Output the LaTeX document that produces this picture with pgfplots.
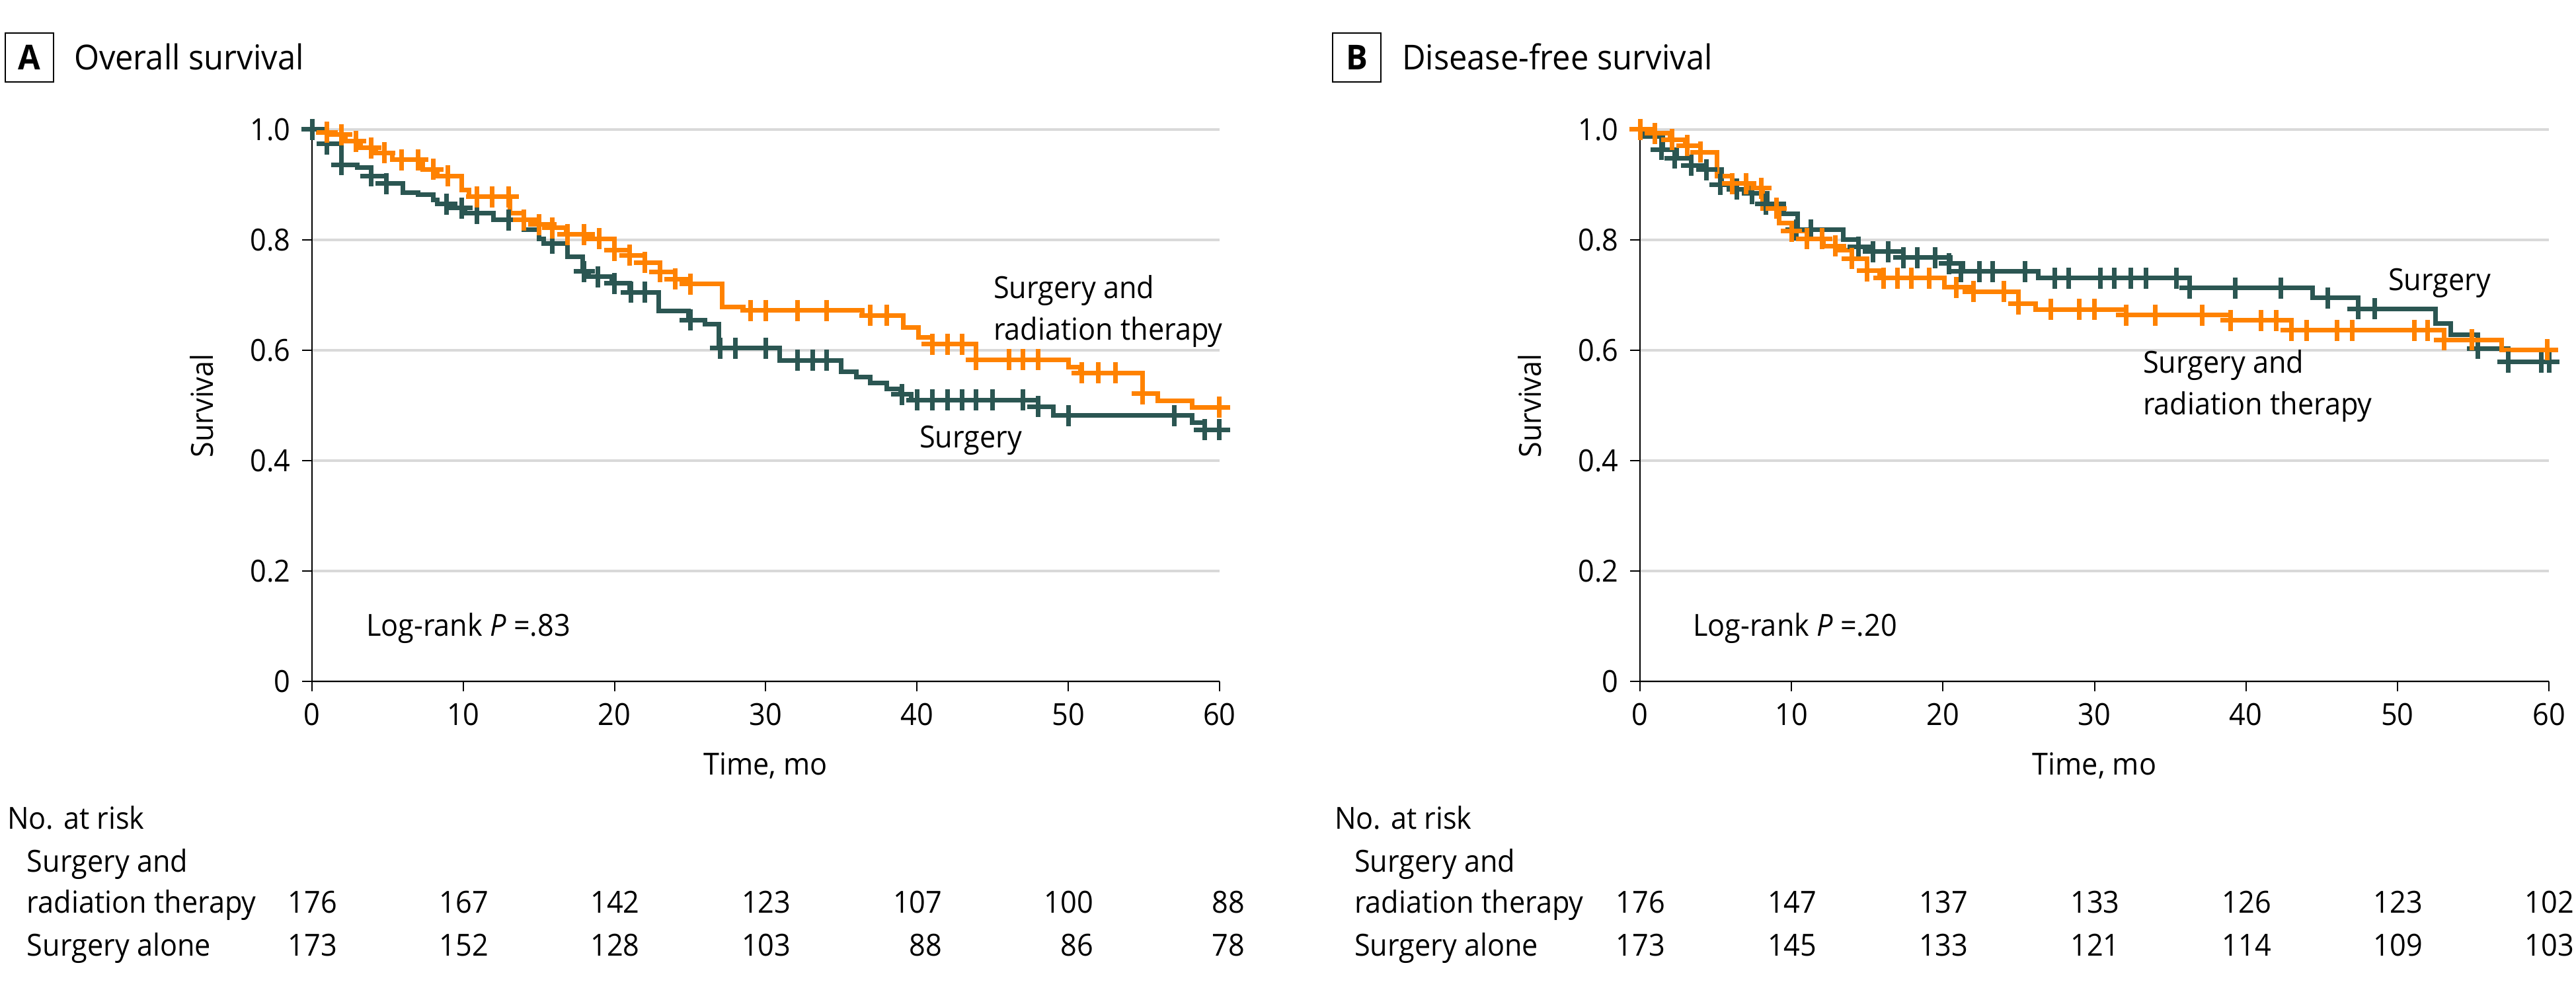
\documentclass[border=0pt]{standalone}
\usepackage{fontspec}
\setmainfont{Open Sans}[FakeStretch=0.94]
\usepackage{pgfplots}
\pgfplotsset{compat=1.18}
\definecolor{dk}{HTML}{2B5652}
\definecolor{og}{HTML}{FF8200}
\definecolor{gr}{HTML}{D9D9D9}
\newcommand{\fs}{\fontsize{9.2}{11}\selectfont}
\newcommand{\ft}{\fontsize{10.4}{12}\selectfont}
\pgfplotsset{kmstyle/.style={
  scale only axis, height=167pt,
  xmin=0, xmax=60, ymin=0, ymax=1,
  axis x line=bottom, axis y line=left,
  axis line style={black, line width=0.4pt, -},
  xtick={0,10,20,30,40,50,60},
  xticklabels={0,10,20,30,40,50,60},
  ytick={0,0.2,0.4,0.6,0.8,1},
  yticklabels={0,0.2,0.4,0.6,0.8,1.0},
  ymajorgrids, grid style={gr, line width=0.8pt},
  tick align=outside, major tick length=3pt,
  tick style={black, line width=0.4pt},
  ticklabel style={font=\fs},
  clip=false,
}}
\begin{document}
\begin{tikzpicture}
% ---------------- Panel A ----------------
\begin{axis}[kmstyle, width=274.6pt, at={(94.4pt,93.8pt)}, anchor=south west]
\addplot[const plot, dk, line width=1.4pt] coordinates {
(0,1.000) (0.98,0.974) (1.95,0.936) (3.0,0.931) (3.9,0.916) (4.9,0.902)
(6.0,0.886) (7.0,0.882) (8.0,0.872) (8.3,0.865) (9.2,0.858) (10.1,0.848)
(12.0,0.836) (14.0,0.818) (15.0,0.802) (15.3,0.794) (16.9,0.770) (17.9,0.743)
(18.3,0.733) (19.8,0.721) (21.0,0.705) (22.9,0.671) (24.9,0.655) (26.0,0.647)
(26.9,0.604) (30.9,0.582) (35.0,0.561) (36.0,0.551) (36.9,0.541) (38.0,0.530)
(38.9,0.520) (39.6,0.510) (48.0,0.498) (49.0,0.482) (58.2,0.469) (59.0,0.456)
(60,0.456)};
\addplot[only marks, mark=+, mark size=3.2pt, mark options={dk, line width=1.4pt}] coordinates {
(0,1.000) (1.0,0.974) (1.95,0.936) (3.9,0.916) (4.9,0.902) (8.9,0.865)
(9.9,0.858) (10.9,0.848) (13.0,0.836) (15.9,0.794) (18.0,0.743) (18.9,0.733)
(20.0,0.721) (21.1,0.705) (22.0,0.705) (25.0,0.655) (27.0,0.604) (28.0,0.604)
(30.0,0.604) (32.1,0.582) (33.1,0.582) (34.0,0.582) (39.0,0.520) (40.0,0.510)
(41.0,0.510) (42.0,0.510) (43.0,0.510) (43.9,0.510) (45.0,0.510) (47.0,0.510)
(48.0,0.498) (50.0,0.482) (57.0,0.482) (59.0,0.456) (60.0,0.456)};
\addplot[const plot, og, line width=1.4pt] coordinates {
(0,1.000) (0.4,0.995) (1.1,0.991) (2.2,0.979) (3.2,0.967) (4.2,0.958)
(5.3,0.945) (7.3,0.928) (8.3,0.916) (9.9,0.891) (10.4,0.878) (13.1,0.849)
(14.0,0.836) (15.0,0.828) (16.0,0.822) (16.8,0.810) (18.3,0.802) (20.0,0.781)
(21.0,0.772) (22.0,0.759) (23.0,0.742) (24.0,0.729) (25.0,0.720) (27.1,0.679)
(28.5,0.672) (36.4,0.663) (39.1,0.641) (40.1,0.623) (41.0,0.611) (43.9,0.583)
(50.0,0.569) (50.8,0.559) (54.9,0.521) (55.9,0.508) (58.2,0.497) (60,0.497)};
\addplot[only marks, mark=+, mark size=3.2pt, mark options={og, line width=1.4pt}] coordinates {
(1.0,0.995) (1.95,0.991) (2.9,0.979) (3.9,0.967) (4.8,0.958) (5.9,0.945)
(7.0,0.945) (8.0,0.928) (9.0,0.916) (10.9,0.878) (11.9,0.878) (13.0,0.878)
(14.0,0.836) (15.0,0.828) (15.9,0.822) (16.9,0.810) (18.0,0.810) (19.0,0.802)
(20.0,0.781) (21.0,0.772) (22.0,0.759) (23.0,0.742) (24.0,0.729) (25.0,0.720)
(29.0,0.672) (30.0,0.672) (32.1,0.672) (34.0,0.672) (36.9,0.663) (38.0,0.663)
(41.0,0.611) (42.0,0.611) (43.0,0.611) (43.9,0.583) (46.1,0.583) (47.0,0.583)
(48.0,0.583) (50.9,0.559) (52.0,0.559) (53.1,0.559) (54.9,0.521) (60.0,0.497)};
\end{axis}
% ---------------- Panel B ----------------
\begin{axis}[kmstyle, width=275pt, at={(496.2pt,93.8pt)}, anchor=south west]
\addplot[const plot, dk, line width=1.4pt] coordinates {
(0,1.000) (0.3,0.987) (1.5,0.964) (2.4,0.948) (3.4,0.935) (4.4,0.927)
(5.4,0.900) (6.4,0.892) (7.4,0.884) (8.4,0.865) (9.5,0.847) (10.4,0.818)
(13.4,0.800) (14.4,0.787) (15.3,0.779) (17.4,0.768) (20.5,0.757) (21.3,0.743)
(26.3,0.731) (36.3,0.713) (44.4,0.695) (47.4,0.675) (52.5,0.649) (53.5,0.628)
(55.3,0.603) (57.3,0.579) (60,0.579)};
\addplot[only marks, mark=+, mark size=3.2pt, mark options={dk, line width=1.4pt}] coordinates {
(1.4,0.964) (2.3,0.948) (3.4,0.935) (4.4,0.927) (5.3,0.900) (6.4,0.892)
(7.4,0.884) (8.3,0.865) (10.3,0.818) (11.3,0.818) (14.4,0.787) (15.4,0.779)
(16.4,0.779) (17.4,0.768) (18.3,0.768) (19.5,0.768) (20.4,0.757) (21.2,0.743)
(22.4,0.743) (23.3,0.743) (25.4,0.743) (27.4,0.731) (28.3,0.731) (30.4,0.731)
(31.3,0.731) (32.4,0.731) (33.4,0.731) (35.4,0.731) (36.3,0.713) (39.3,0.713)
(42.3,0.713) (45.4,0.695) (47.4,0.675) (48.5,0.675) (55.3,0.603) (57.3,0.579)
(59.5,0.579) (60.0,0.579)};
\addplot[const plot, og, line width=1.4pt] coordinates {
(0,1.000) (0.8,0.993) (2.0,0.982) (3.0,0.971) (4.0,0.959) (5.1,0.916)
(6.1,0.902) (7.1,0.894) (8.1,0.857) (9.2,0.831) (10.0,0.816) (11.0,0.802)
(12.1,0.789) (13.1,0.782) (14.0,0.766) (15.0,0.744) (15.8,0.731) (20.1,0.714)
(22.0,0.706) (25.0,0.684) (26.1,0.674) (32.1,0.664) (39.0,0.654) (43.0,0.636)
(53.1,0.619) (56.9,0.601) (60,0.601)};
\addplot[only marks, mark=+, mark size=3.2pt, mark options={og, line width=1.4pt}] coordinates {
(0,1.000) (1.0,0.993) (2.1,0.982) (3.1,0.971) (4.0,0.959) (6.1,0.902)
(7.0,0.902) (8.0,0.894) (9.0,0.857) (10.0,0.816) (11.0,0.802) (12.0,0.802)
(12.9,0.789) (14.0,0.766) (15.0,0.744) (16.1,0.731) (17.0,0.731) (17.9,0.731)
(19.1,0.731) (20.9,0.714) (22.0,0.706) (24.0,0.706) (25.0,0.684) (27.1,0.674)
(29.0,0.674) (30.0,0.674) (32.1,0.664) (34.0,0.664) (37.1,0.664) (39.0,0.654)
(41.0,0.654) (42.0,0.654) (43.0,0.636) (44.0,0.636) (46.0,0.636) (47.0,0.636)
(51.1,0.636) (52.0,0.636) (53.1,0.619) (54.9,0.619) (59.9,0.601)};
\end{axis}
% ---------------- Texts ----------------
\begin{scope}[every node/.style={inner sep=0pt, font=\fs}]
% panel titles
\draw[line width=0.5pt] (1.6pt,275.2pt) rectangle (16.2pt,290pt);
\node[anchor=center, font=\ft\bfseries] at (8.9pt,282.6pt) {A};
\node[anchor=base west, font=\ft] at (22.2pt,278.8pt) {Overall survival};
\draw[line width=0.5pt] (403.2pt,275.2pt) rectangle (417.8pt,290pt);
\node[anchor=center, font=\ft\bfseries] at (410.5pt,282.6pt) {B};
\node[anchor=base west, font=\ft] at (424pt,278.8pt) {Disease-free survival};
% axis labels
\node[rotate=90] at (61pt,177.2pt) {Survival};
\node[rotate=90] at (462.8pt,177.2pt) {Survival};
\node[anchor=base] at (231.6pt,65.4pt) {Time, mo};
\node[anchor=base] at (633.7pt,65.4pt) {Time, mo};
% curve labels
\node[anchor=base west] at (300.4pt,209.6pt) {Surgery and};
\node[anchor=base west] at (300.4pt,197pt) {radiation therapy};
\node[anchor=base west] at (278pt,164.4pt) {Surgery};
\node[anchor=base west] at (722.4pt,212pt) {Surgery};
\node[anchor=base west] at (648.2pt,187pt) {Surgery and};
\node[anchor=base west] at (648.2pt,174.4pt) {radiation therapy};
\node[anchor=base west] at (110.6pt,107.4pt) {Log-rank \textit{P} =.83};
\node[anchor=base west] at (512pt,107.4pt) {Log-rank \textit{P} =.20};
% number at risk
\node[anchor=base west] at (2pt,49pt) {No. at risk};
\node[anchor=base west] at (8pt,36pt) {Surgery and};
\node[anchor=base west] at (8pt,23.6pt) {radiation therapy};
\node[anchor=base west] at (8pt,10.6pt) {Surgery alone};
\node[anchor=base west] at (403.6pt,49pt) {No. at risk};
\node[anchor=base west] at (409.6pt,36pt) {Surgery and};
\node[anchor=base west] at (409.6pt,23.6pt) {radiation therapy};
\node[anchor=base west] at (409.6pt,10.6pt) {Surgery alone};
\foreach \x/\a/\b in {102.2/176/173, 147.96/167/152, 193.72/142/128, 239.48/123/103, 285.24/107/88, 331.0/100/86, 376.76/88/78}{
  \node[anchor=base east] at (\x pt,23.6pt) {\a};
  \node[anchor=base east] at (\x pt,10.6pt) {\b};
}
\foreach \x/\a/\b in {504.0/176/173, 549.84/147/145, 595.68/137/133, 641.52/133/121, 687.36/126/114, 733.2/123/109, 779.0/102/103}{
  \node[anchor=base east] at (\x pt,23.6pt) {\a};
  \node[anchor=base east] at (\x pt,10.6pt) {\b};
}
\end{scope}
\pgfresetboundingbox
\path[use as bounding box] (0,0) rectangle (779.4pt,300pt);
\end{tikzpicture}
\end{document}
